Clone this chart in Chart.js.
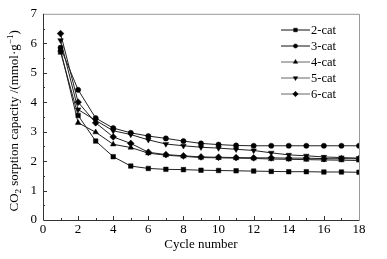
<!DOCTYPE html>
<html>
<head>
<meta charset="utf-8">
<script src="https://cdn.jsdelivr.net/npm/chart.js@4"></script>
<style>
    body { margin: 0; background: #fff; }
    canvas { display: block; }
</style>
</head>
<body>
<canvas id="sorptionChart" width="387" height="259"></canvas>
<script>
// Данные с графика
const cycles = [1, 2, 3, 4, 5, 6, 7, 8, 9, 10, 11, 12, 13, 14, 15, 16, 17, 18];
const seriesNames = ['2-cat', '3-cat', '4-cat', '5-cat', '6-cat'];
const cat2 = [5.70, 3.55, 2.68, 2.15, 1.83, 1.75, 1.72, 1.71, 1.69, 1.68, 1.67, 1.66, 1.65, 1.64, 1.64, 1.63, 1.63, 1.62];
const cat3 = [5.85, 4.42, 3.46, 3.12, 2.96, 2.85, 2.77, 2.68, 2.60, 2.56, 2.53, 2.52, 2.52, 2.52, 2.52, 2.52, 2.52, 2.52];
const cat4 = [5.78, 3.30, 2.98, 2.57, 2.46, 2.27, 2.20, 2.16, 2.12, 2.11, 2.10, 2.09, 2.07, 2.06, 2.05, 2.04, 2.03, 2.02];
const cat5 = [6.10, 3.75, 3.38, 3.03, 2.90, 2.72, 2.58, 2.52, 2.47, 2.44, 2.40, 2.36, 2.28, 2.21, 2.18, 2.14, 2.12, 2.10];
const cat6 = [6.33, 4.00, 3.30, 2.82, 2.60, 2.30, 2.22, 2.18, 2.14, 2.13, 2.12, 2.11, 2.11, 2.10, 2.10, 2.08, 2.08, 2.08];
const xTicks = [0, 2, 4, 6, 8, 10, 12, 14, 16, 18];
const yTicks = [0, 1, 2, 3, 4, 5, 6, 7];

const FONT = '"Liberation Serif", "Times New Roman", serif';

// Стиль маркеров для каждой серии
const markers = [
    { style: 'rect', radius: 3.2, rotation: 0 },
    { style: 'circle', radius: 2.6, rotation: 0 },
    { style: 'triangle', radius: 3.2, rotation: 0 },
    { style: 'triangle', radius: 3.2, rotation: 180 },
    { style: 'rectRot', radius: 3.4, rotation: 0 }
];
const legendLineColors = ['#111', '#111', '#666', '#666', '#666'];

function toPoints(values) {
    return cycles.map((c, i) => ({ x: c, y: values[i] }));
}

const allValues = [cat2, cat3, cat4, cat5, cat6];

const datasets = allValues.map((values, i) => ({
    label: seriesNames[i],
    data: toPoints(values),
    borderColor: '#222',
    borderWidth: 1,
    backgroundColor: '#000',
    pointBackgroundColor: '#000',
    pointBorderColor: '#000',
    pointBorderWidth: 0.5,
    pointStyle: markers[i].style,
    pointRadius: markers[i].radius,
    pointRotation: markers[i].rotation,
    fill: false,
    tension: 0
}));

// Рамка, внутренние засечки, подписи осей и легенда
const decorPlugin = {
    id: 'decor',
    afterDraw(chart) {
        const ctx = chart.ctx;
        const area = chart.chartArea;
        const xs = chart.scales.x;
        const ys = chart.scales.y;

        ctx.save();
        // Рамка
        ctx.lineWidth = 1;
        ctx.strokeStyle = '#999';
        ctx.beginPath();
        ctx.moveTo(area.left, area.top + 0.5);
        ctx.lineTo(area.right + 0.5, area.top + 0.5);
        ctx.lineTo(area.right + 0.5, area.bottom);
        ctx.stroke();
        ctx.strokeStyle = '#333';
        ctx.beginPath();
        ctx.moveTo(area.left + 0.5, area.top);
        ctx.lineTo(area.left + 0.5, area.bottom + 0.5);
        ctx.lineTo(area.right + 0.5, area.bottom + 0.5);
        ctx.stroke();

        // Засечки по оси X
        ctx.beginPath();
        for (let v = 1; v < 18; v++) {
            const px = Math.round(xs.getPixelForValue(v)) + 0.5;
            const len = v % 2 === 0 ? 4 : 2;
            ctx.moveTo(px, area.bottom);
            ctx.lineTo(px, area.bottom - len);
        }
        // Засечки по оси Y
        for (let v = 0.5; v < 7; v += 0.5) {
            const py = Math.round(ys.getPixelForValue(v)) + 0.5;
            const len = Number.isInteger(v) ? 4 : 2;
            ctx.moveTo(area.left, py);
            ctx.lineTo(area.left + len, py);
        }
        ctx.stroke();

        // Подпись оси X
        ctx.fillStyle = '#000';
        ctx.font = '13px ' + FONT;
        ctx.textAlign = 'center';
        ctx.textBaseline = 'alphabetic';
        ctx.fillText('Cycle number', (area.left + area.right) / 2, 248);

        // Подпись оси Y с индексами
        ctx.translate(18, (area.top + area.bottom) / 2 + 4);
        ctx.rotate(-Math.PI / 2);
        const parts = [
            { t: 'CO', size: 13, dy: 0 },
            { t: '2', size: 9, dy: 3 },
            { t: ' sorption capacity /(mmol\u00b7g', size: 13, dy: 0 },
            { t: '\u22121', size: 9, dy: -5 },
            { t: ')', size: 13, dy: 0 }
        ];
        let total = 0;
        parts.forEach(p => {
            ctx.font = p.size + 'px ' + FONT;
            p.w = ctx.measureText(p.t).width;
            total += p.w;
        });
        let cx = -total / 2;
        ctx.textAlign = 'left';
        parts.forEach(p => {
            ctx.font = p.size + 'px ' + FONT;
            ctx.fillText(p.t, cx, p.dy);
            cx += p.w;
        });
        ctx.restore();

        // Легенда
        ctx.save();
        ctx.font = '12.5px ' + FONT;
        ctx.textBaseline = 'middle';
        ctx.textAlign = 'left';
        seriesNames.forEach((name, i) => {
            const y = 29.5 + i * 16;
            ctx.strokeStyle = legendLineColors[i];
            ctx.lineWidth = 1;
            ctx.beginPath();
            ctx.moveTo(281, y + 0.5);
            ctx.lineTo(310, y + 0.5);
            ctx.stroke();
            ctx.fillStyle = '#000';
            ctx.strokeStyle = '#000';
            ctx.lineWidth = 0.5;
            Chart.helpers.drawPoint(ctx, {
                pointStyle: markers[i].style,
                radius: markers[i].radius * 0.8,
                rotation: markers[i].rotation,
                borderWidth: 0.5
            }, 295.5, y + 0.5);
            ctx.fillStyle = '#000';
            ctx.fillText(name, 311, y + 1);
        });
        ctx.restore();
    }
};

const ctx = document.getElementById('sorptionChart').getContext('2d');
window.sorptionChart = new Chart(ctx, {
    type: 'line',
    data: { datasets: datasets },
    options: {
        responsive: false,
        devicePixelRatio: 1,
        animation: false,
        layout: {
            padding: { left: 0, right: 28, top: 12, bottom: 0 }
        },
        plugins: {
            legend: { display: false },
            tooltip: { enabled: false }
        },
        scales: {
            x: {
                type: 'linear',
                min: 0,
                max: 18,
                afterBuildTicks: scale => {
                    scale.ticks = xTicks.map(v => ({ value: v }));
                },
                afterFit: scale => { scale.height = 39; },
                ticks: {
                    color: '#000',
                    padding: 2,
                    maxRotation: 0,
                    autoSkip: false,
                    font: { family: FONT, size: 13 }
                },
                grid: { display: false, drawTicks: false },
                border: { display: false }
            },
            y: {
                type: 'linear',
                min: 0,
                max: 7,
                afterBuildTicks: scale => {
                    scale.ticks = yTicks.map(v => ({ value: v }));
                },
                afterFit: scale => { scale.width = 43; },
                ticks: {
                    color: '#000',
                    padding: 6,
                    font: { family: FONT, size: 13 }
                },
                grid: { display: false, drawTicks: false },
                border: { display: false }
            }
        }
    },
    plugins: [decorPlugin]
});
</script>
</body>
</html>
